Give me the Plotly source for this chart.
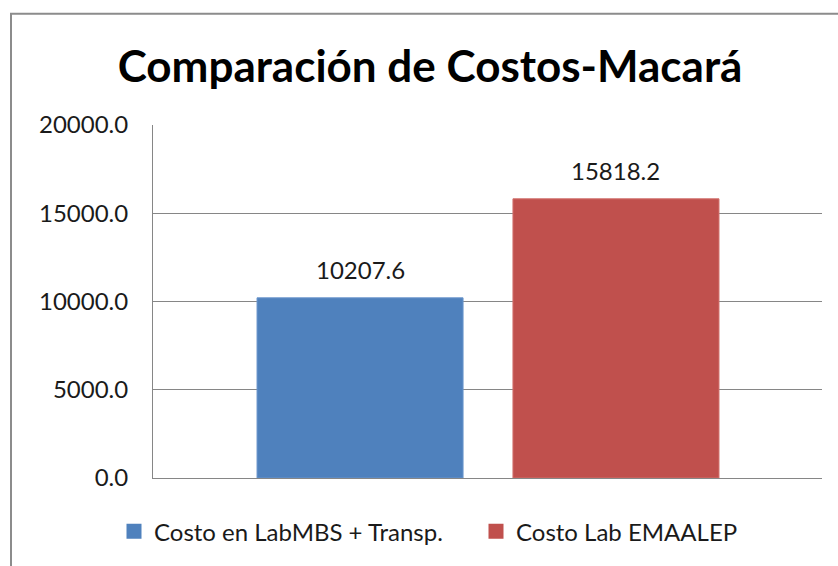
import plotly.graph_objects as go

series_names = ["Costo en LabMBS + Transp.", "Costo Lab EMAALEP"]
series_values = [10207.6, 15818.2]
series_colors = ["#4F81BD", "#C0504D"]
edge_colors = ["#6a95cc", "#d2716d"]
y_ticks = [0, 5000, 10000, 15000, 20000]
y_tick_labels = ["0.0", "5000.0", "10000.0", "15000.0", "20000.0"]
title_text = "Comparación de Costos-Macará"

W, H = 838, 566
L, R, T, B = 153, 822, 125, 480

fig = go.Figure()
for name, val, col, ec in zip(series_names, series_values, series_colors, edge_colors):
    fig.add_trace(go.Bar(
        x=[name], y=[val], name=name, width=0.805,
        marker=dict(color=col, line=dict(color=ec, width=1)),
        hoverinfo="y", showlegend=False,
    ))
    fig.add_trace(go.Scatter(
        x=[None], y=[None], mode="markers", name=name,
        marker=dict(symbol="square", size=15, color=col),
        showlegend=True,
    ))
    fig.add_annotation(
        x=name, y=val, text=f"{val:.1f}", showarrow=False,
        yanchor="bottom", yshift=12,
        font=dict(family="Lato", size=24, color="#1a1a1a"),
    )

def px_x(p):
    return (p - L) / (R - L)

def px_y(p):
    return (B - p) / (B - T)

fig.add_shape(type="rect", xref="paper", yref="paper",
              x0=px_x(11), x1=px_x(860), y0=px_y(590), y1=px_y(13),
              line=dict(color="#8c8c8c", width=2), fillcolor="rgba(0,0,0,0)",
              layer="below")

fig.update_layout(
    width=W, height=H,
    margin=dict(l=L, r=W - R, t=T, b=H - B),
    paper_bgcolor="white", plot_bgcolor="white",
    title=dict(text=f"<b>{title_text}</b>", xref="paper", x=px_x(430), xanchor="center",
               yref="container", y=1 - 67 / H, yanchor="middle",
               font=dict(family="Lato", size=44, color="black")),
    xaxis=dict(range=[-0.809, 1.805], showticklabels=False, showgrid=False,
               showline=True, linecolor="#868686", linewidth=1, zeroline=False, ticks=""),
    yaxis=dict(range=[0, 20000], tickvals=y_ticks, ticktext=y_tick_labels,
               showgrid=True, gridcolor="#868686", gridwidth=1,
               showline=True, linecolor="#868686", linewidth=1, zeroline=False,
               ticks="", ticklabelstandoff=19,
               tickfont=dict(family="Lato", size=24, color="#1a1a1a")),
    showlegend=True,
    legend=dict(orientation="h", x=px_x(151), xanchor="left", y=px_y(534), yanchor="middle",
                font=dict(family="Lato", size=24, color="#1a1a1a"),
                entrywidth=317, entrywidthmode="pixels", bgcolor="rgba(0,0,0,0)"),
)

fig.write_html("out.html", config={"displayModeBar": False},
               post_script="document.body.style.margin='0';")
